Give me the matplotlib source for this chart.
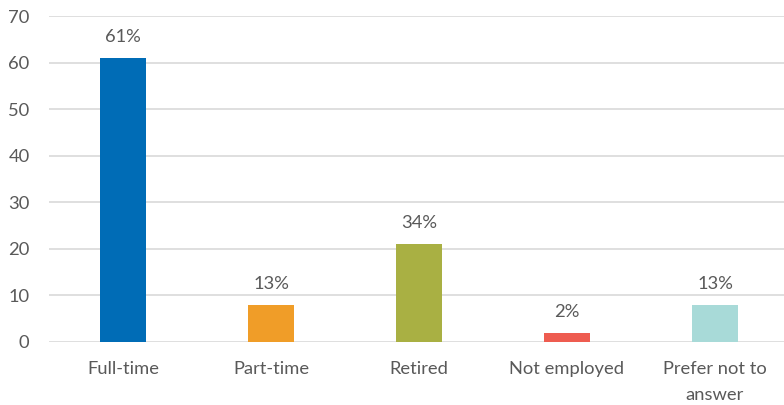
import matplotlib
matplotlib.use("Agg")
import matplotlib.pyplot as plt

categories = ["Full-time", "Part-time", "Retired", "Not employed", "Prefer not to\nanswer"]
values = [61, 8, 21, 2, 8]
value_labels = ["61%", "13%", "34%", "2%", "13%"]
colors = ["#006CB6", "#F09D28", "#A9B043", "#EE5C50", "#A8DAD8"]
y_ticks = [0, 10, 20, 30, 40, 50, 60, 70]

plt.rcParams["font.family"] = ["Lato", "DejaVu Sans"]
text_color = "#595959"
fsize = 13.2

fig = plt.figure(figsize=(7.84, 4.05), dpi=100)
# plot area in figure pixels: left 49, right 789, bottom 342 (y=0), top 16 (y=70)
W, H = 784, 405
ax = fig.add_axes([49 / W, (H - 342) / H, 740 / W, (342 - 16) / H])

x = list(range(len(categories)))
bars = ax.bar(x, values, width=0.31, color=colors, zorder=3)

for xi, v, lab in zip(x, values, value_labels):
    ax.annotate(lab, (xi, v), xytext=(0, 15), textcoords="offset points",
                ha="center", va="center", fontsize=fsize, color=text_color)

ax.set_xlim(-0.5, len(categories) - 0.5)
ax.set_ylim(0, 70)
ax.set_yticks(y_ticks)
ax.set_xticks(x)
ax.set_xticklabels(categories)
ax.tick_params(axis="both", length=0, labelsize=fsize, colors=text_color)
ax.tick_params(axis="x", pad=14)
ax.tick_params(axis="y", pad=14)
for lbl in ax.get_xticklabels():
    lbl.set_linespacing(1.7)

ax.grid(axis="y", color="#D9D9D9", linewidth=1.2, zorder=0)
for s in ax.spines.values():
    s.set_visible(False)

fig.savefig("out.png", dpi=100)
